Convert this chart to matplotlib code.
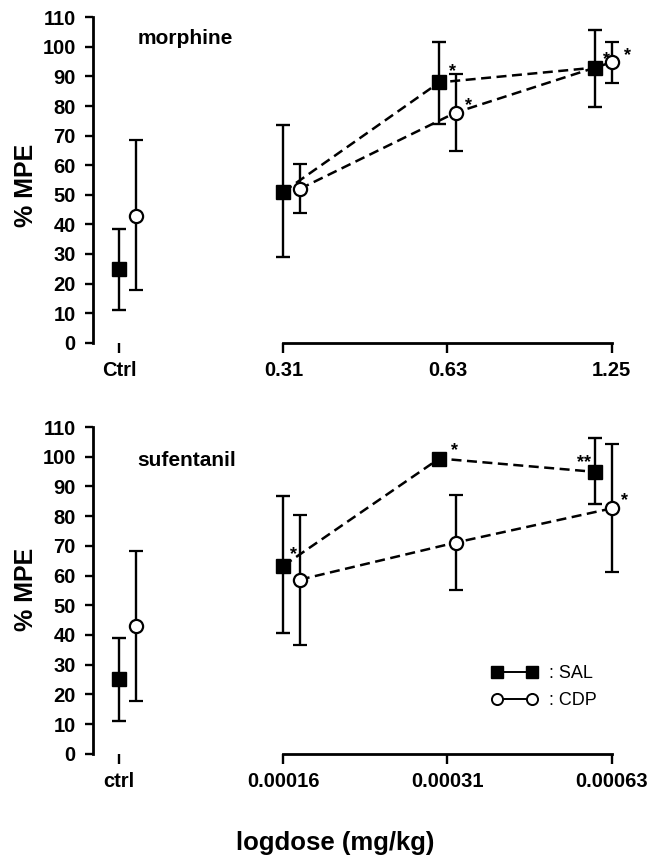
import numpy as np
import matplotlib
matplotlib.use('Agg')
import matplotlib.pyplot as plt
from matplotlib.lines import Line2D

plt.rcParams['font.family'] = ['Liberation Sans', 'DejaVu Sans']
plt.rcParams['font.weight'] = 'bold'

# x categories (ctrl + 3 doses), evenly spaced
dose_pos = np.array([0, 1, 2, 3])
sal_shift = np.array([0.0, 0.0, -0.05, -0.1])
cdp_shift = np.array([0.1, 0.1, 0.05, 0.0])

# morphine panel
morph_labels = ['Ctrl', '0.31', '0.63', '1.25']
morph_sal = np.array([25, 51, 88, 93])
morph_sal_lo = np.array([11, 29, 74, 79.7])
morph_sal_hi = np.array([38.6, 73.5, 101.5, 105.7])
morph_cdp = np.array([43, 52, 77.8, 94.8])
morph_cdp_lo = np.array([17.8, 44, 64.9, 87.8])
morph_cdp_hi = np.array([68.5, 60.3, 90.8, 101.5])
morph_stars = [(2.03, 93.7, '*'), (2.13, 82.1, '*'), (2.97, 97.8, '*'), (3.1, 99.2, '*')]

# sufentanil panel
sufe_labels = ['ctrl', '0.00016', '0.00031', '0.00063']
sufe_sal = np.array([25, 63.3, 99.4, 94.9])
sufe_sal_lo = np.array([11, 40.5, np.nan, 84])
sufe_sal_hi = np.array([39, 86.7, np.nan, 106.2])
sufe_cdp = np.array([43, 58.6, 71.1, 82.6])
sufe_cdp_lo = np.array([17.8, 36.6, 55, 61.3])
sufe_cdp_hi = np.array([68.4, 80.4, 87.2, 104.2])
sufe_stars = [(1.06, 68.9, '*'), (2.04, 104.1, '*'), (2.83, 100, '**'), (3.08, 87.1, '*')]


def draw_panel(ax, sal_m, sal_lo, sal_hi, cdp_m, cdp_lo, cdp_hi, labels, name, name_y, stars):
    xs = dose_pos + sal_shift
    xc = dose_pos + cdp_shift
    ax.plot(xs[1:], sal_m[1:], color='black', lw=1.8, dashes=(4.0, 2.2), zorder=2)
    ax.plot(xc[1:], cdp_m[1:], color='black', lw=1.8, dashes=(4.0, 2.2), zorder=2)
    ax.errorbar(xs, sal_m, yerr=[sal_m - sal_lo, sal_hi - sal_m], fmt='s', ms=10.5,
                mfc='black', mec='black', ecolor='black', elinewidth=1.7,
                capsize=5.3, capthick=1.7, zorder=3)
    ax.errorbar(xc, cdp_m, yerr=[cdp_m - cdp_lo, cdp_hi - cdp_m], fmt='o', ms=9.5,
                mfc='white', mec='black', mew=1.6, ecolor='black', elinewidth=1.7,
                capsize=5.3, capthick=1.7, zorder=3)
    for sx, sy, s in stars:
        ax.annotate(s, (sx, sy), xytext=(0, -7.5), textcoords='offset points',
                    ha='center', va='baseline', fontsize=13)
    ax.text(0.113, name_y, name, fontsize=15, va='baseline', ha='left')

    ax.set_xlim(-0.16, 3.2)
    ax.set_ylim(0, 110)
    ax.set_yticks(range(0, 111, 10))
    ax.set_xticks(dose_pos, labels)
    for side in ['top', 'right']:
        ax.spines[side].set_visible(False)
    ax.spines['left'].set_linewidth(2.0)
    ax.spines['bottom'].set_linewidth(2.0)
    ax.spines['bottom'].set_bounds(1, 3)
    ax.tick_params(axis='y', length=6, width=1.7, pad=6.5, labelsize=14.5)
    ax.tick_params(axis='x', length=7, width=1.7, pad=6.5, labelsize=14.5)


fig = plt.figure(figsize=(6.49, 8.57), dpi=100)
ax1 = fig.add_axes([93 / 649, 0.6001, 551.4 / 649, 0.3797])
ax2 = fig.add_axes([93 / 649, 0.1205, 551.4 / 649, 0.3812])

draw_panel(ax1, morph_sal, morph_sal_lo, morph_sal_hi, morph_cdp, morph_cdp_lo, morph_cdp_hi,
           morph_labels, 'morphine', 100.9, morph_stars)
draw_panel(ax2, sufe_sal, sufe_sal_lo, sufe_sal_hi, sufe_cdp, sufe_cdp_lo, sufe_cdp_hi,
           sufe_labels, 'sufentanil', 96.9, sufe_stars)

handles = [Line2D([], [], color='black', lw=1.4, marker='s', ms=8.5, mfc='black'),
           Line2D([], [], color='black', lw=1.4, marker='o', ms=8, mfc='white', mew=1.4)]
ax2.legend(handles, [': SAL', ': CDP'], loc='center left', bbox_to_anchor=(0.723, 0.204),
           frameon=False, numpoints=2, handlelength=2.55, handletextpad=0.6,
           labelspacing=0.55, borderpad=0, borderaxespad=0,
           prop={'size': 13, 'weight': 'normal'})

fig.text(26 / 649, 1 - 185 / 857, '% MPE', rotation=90, ha='center', va='center', fontsize=18)
fig.text(26 / 649, 1 - 589 / 857, '% MPE', rotation=90, ha='center', va='center', fontsize=18)
fig.text(335 / 649, 1 - 850 / 857, 'logdose (mg/kg)', ha='center', va='baseline', fontsize=18.5)

fig.savefig('out.png', dpi=100)
